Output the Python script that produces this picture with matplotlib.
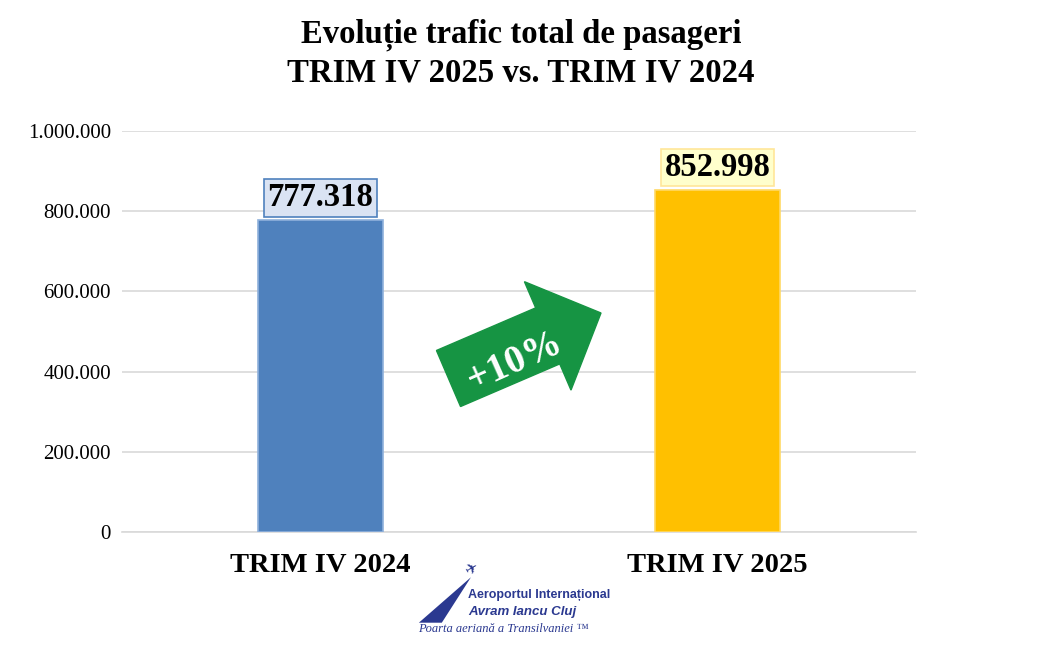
import matplotlib
matplotlib.use('Agg')
import matplotlib.pyplot as plt
from matplotlib.patches import FancyArrow, Polygon
from matplotlib.ticker import FuncFormatter

categories = ['TRIM IV 2024', 'TRIM IV 2025']
passengers = [777318, 852998]
value_labels = ['777.318', '852.998']
growth_label = '+10%'
title = 'Evoluție trafic total de pasageri\nTRIM IV 2025 vs. TRIM IV 2024'

bar_colors = ['#4f81bd', '#ffc000']
bar_edges = ['#8fb1dc', '#ffd966']
box_faces = ['#dae3f3', '#ffffcc']
box_edges = ['#4f81bd', '#ffe699']


def dotted(v, pos=None):
    return f'{int(v):,}'.replace(',', '.')


def main():
    plt.rcParams['font.family'] = ['Liberation Serif', 'DejaVu Serif']
    fig = plt.figure(figsize=(10.42, 6.5), dpi=100)
    ax = fig.add_axes([0.117, 0.1815, 0.762, 0.617])

    x = range(len(categories))
    ax.bar(x, passengers, width=0.313, color=bar_colors, edgecolor=bar_edges,
           linewidth=1.2, zorder=3)
    ax.set_xlim(-0.5, 1.5)
    ax.set_ylim(0, 1000000)
    ax.set_yticks(range(0, 1000001, 200000))
    ax.yaxis.set_major_formatter(FuncFormatter(dotted))
    ax.set_xticks(list(x))
    ax.set_xticklabels(categories, fontsize=20.5, fontweight='bold')
    ax.tick_params(axis='y', labelsize=15, length=0, pad=8)
    ax.tick_params(axis='x', length=0, pad=15)
    ax.grid(axis='y', color='#d9d9d9', linewidth=1.2, zorder=0)
    for s in ['top', 'right', 'left']:
        ax.spines[s].set_visible(False)
    ax.spines['bottom'].set_color('#d9d9d9')
    ax.spines['bottom'].set_linewidth(1.2)

    for i, (v, lab) in enumerate(zip(passengers, value_labels)):
        ax.annotate(lab, (i, v), xytext=(0, 5), textcoords='offset points',
                    ha='center', va='bottom', fontsize=23.5, fontweight='bold',
                    bbox=dict(boxstyle='square,pad=0.1', facecolor=box_faces[i],
                              edgecolor=box_edges[i], linewidth=1.2),
                    zorder=5)

    fig.suptitle(title, y=0.972, fontsize=23.6, fontweight='bold', linespacing=1.3)

    # growth arrow, drawn in pixel coords
    arrow = FancyArrow(448.5, 271.5, 152.5, 65.5, width=61, head_width=118,
                       head_length=58, length_includes_head=True,
                       color='#169443', transform=None, zorder=6)
    fig.patches.append(arrow)
    fig.text(0.494, 0.443, growth_label, rotation=24, ha='center', va='center',
             fontsize=28, fontweight='bold', color='white', zorder=7)

    # logo
    fig.patches.append(Polygon([(0.402, 0.042), (0.452, 0.112), (0.424, 0.042)],
                               closed=True, transform=fig.transFigure,
                               facecolor='#2b3990', edgecolor='none'))
    fig.text(0.452, 0.125, '✈', fontsize=11, color='#2b3990', rotation=30,
             ha='center', va='center', family=['DejaVu Sans'])
    fig.text(0.449, 0.085, 'Aeroportul Internațional', fontsize=9,
             fontweight='bold', color='#2b3990', family=['Liberation Sans'],
             va='center')
    fig.text(0.449, 0.058, 'Avram Iancu Cluj', fontsize=9.5, fontweight='bold',
             style='italic', color='#2b3990', family=['Liberation Sans'],
             va='center')
    fig.text(0.401, 0.033, 'Poarta aeriană a Transilvaniei ™', fontsize=9,
             style='italic', color='#2b3990', va='center')

    fig.savefig('out.png', dpi=100)


if __name__ == '__main__':
    main()
